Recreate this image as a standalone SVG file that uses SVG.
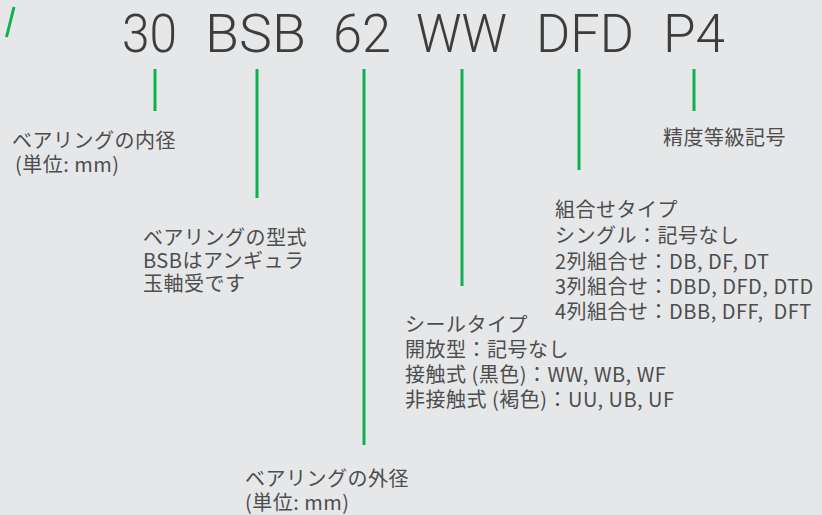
<svg xmlns="http://www.w3.org/2000/svg" width="822" height="515" viewBox="0 0 822 515">
<style>
.bg{fill:#e6e7e9}
.code{font-family:Roboto,"Liberation Sans",sans-serif;font-weight:300;font-size:53px;fill:#3d3d3d}
.lbl{font-family:"Noto Sans CJK JP","Noto Sans",sans-serif;font-size:20px;letter-spacing:0.5px;fill:#4d4d4d;white-space:pre}
.ln{stroke:#0db150;stroke-width:3;fill:none}
</style>
<rect class="bg" x="0" y="0" width="822" height="515"/>
<line class="ln" x1="14" y1="7" x2="6.5" y2="37" stroke-width="2.5"/>
<g id="code">
<text class="code" x="122" y="52" textLength="55" lengthAdjust="spacingAndGlyphs">30</text>
<text class="code" x="205" y="52" textLength="101" lengthAdjust="spacingAndGlyphs">BSB</text>
<text class="code" x="333" y="52" textLength="58" lengthAdjust="spacingAndGlyphs">62</text>
<text class="code" x="416" y="52" textLength="91" lengthAdjust="spacingAndGlyphs">WW</text>
<text class="code" x="536" y="52" textLength="98" lengthAdjust="spacingAndGlyphs">DFD</text>
<text class="code" x="663" y="52" textLength="62" lengthAdjust="spacingAndGlyphs">P4</text>
</g>
<g id="connectors">
<line class="ln" x1="155" y1="69" x2="155" y2="111"/>
<line class="ln" x1="257" y1="69" x2="257" y2="198"/>
<line class="ln" x1="364" y1="69" x2="364" y2="445"/>
<line class="ln" x1="462" y1="69" x2="462" y2="286"/>
<line class="ln" x1="579" y1="69" x2="579" y2="170"/>
<line class="ln" x1="694" y1="69" x2="694" y2="111"/>
</g>
<g id="inner-diameter">
<text class="lbl" x="12" y="147.5">ベアリングの内径</text>
<text class="lbl" x="15" y="172">(単位: mm)</text>
</g>
<g id="bearing-type">
<text class="lbl" x="143" y="245">ベアリングの型式</text>
<text class="lbl" x="143" y="268">BSBはアンギュラ</text>
<text class="lbl" x="143" y="291">玉軸受です</text>
</g>
<g id="outer-diameter">
<text class="lbl" x="245" y="485.5">ベアリングの外径</text>
<text class="lbl" x="245" y="509.5">(単位: mm)</text>
</g>
<g id="seal-type">
<text class="lbl" x="405" y="331.5">シールタイプ</text>
<text class="lbl" x="405" y="356.5">開放型：記号なし</text>
<text class="lbl" x="405" y="381.5">接触式 (黒色)：WW, WB, WF</text>
<text class="lbl" x="405" y="406.5">非接触式 (褐色)：UU, UB, UF</text>
</g>
<g id="combination-type">
<text class="lbl" x="555" y="216.5">組合せタイプ</text>
<text class="lbl" x="555" y="243">シングル：記号なし</text>
<text class="lbl" x="555" y="268.5">2列組合せ：DB, DF, DT</text>
<text class="lbl" x="555" y="293.5">3列組合せ：DBD, DFD, DTD</text>
<text class="lbl" x="555" y="318.5">4列組合せ：DBB, DFF,  DFT</text>
</g>
<g id="precision-class">
<text class="lbl" x="663" y="144.5">精度等級記号</text>
</g>
</svg>
